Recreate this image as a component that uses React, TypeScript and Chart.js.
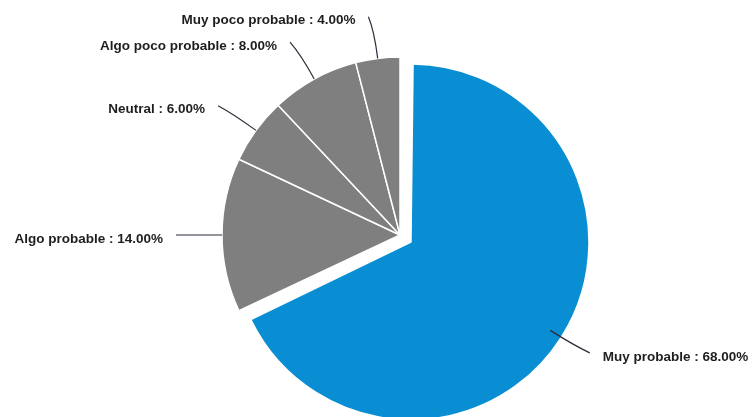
import React, { useEffect, useRef } from "react";
import { Chart, registerables } from "chart.js";

Chart.register(...registerables);

const categories = [
  "Muy probable",
  "Algo probable",
  "Neutral",
  "Algo poco probable",
  "Muy poco probable",
];
const values = [68, 14, 6, 8, 4];
const colors = ["#0a8ed3", "#7f7f7f", "#7f7f7f", "#7f7f7f", "#7f7f7f"];
const offsets = [52, 0, 0, 0, 0];

// Chart.js grows an offset arc's radius by the same amount it shifts it;
// shrink it back so the exploded slice keeps the pie's radius.
const keepRadius = {
  id: "keepRadius",
  beforeDatasetsDraw(chart: any) {
    const meta = chart.getDatasetMeta(0);
    const base = meta.controller.outerRadius;
    meta.data.forEach((arc: any, i: number) => {
      const off = (offsets[i] || 0) / 4;
      const circ = arc.endAngle - arc.startAngle;
      const fix = 1 - Math.sin(Math.min(Math.PI, circ));
      arc.outerRadius = base - off * fix;
    });
  },
};

const outerLabels = {
  id: "outerLabels",
  afterDatasetsDraw(chart: any) {
    const ctx = chart.ctx;
    const meta = chart.getDatasetMeta(0);
    const outerRadius = meta.controller.outerRadius;
    ctx.save();
    ctx.font = "bold 13.5px 'Liberation Sans', Arial, sans-serif";
    ctx.textBaseline = "middle";
    meta.data.forEach((arc: any, i: number) => {
      const { x, y, startAngle, endAngle } = arc;
      const mid = (startAngle + endAngle) / 2;
      const cx = Math.cos(mid);
      const cy = Math.sin(mid);
      const right = cx >= 0;
      const sx = x + cx * outerRadius;
      const sy = y + cy * outerRadius;
      const kx = x + cx * (outerRadius + 28);
      const ky = y + cy * (outerRadius + 28);
      const ex = x + cx * (outerRadius + 42) + (right ? 4 : -4);
      const ey = y + cy * (outerRadius + 42);
      ctx.strokeStyle = "#2b2b3a";
      ctx.lineWidth = 1.2;
      ctx.beginPath();
      ctx.moveTo(sx, sy);
      ctx.quadraticCurveTo(kx, ky, ex, ey);
      ctx.stroke();
      const text = `${categories[i]} : ${values[i].toFixed(2)}%`;
      ctx.fillStyle = "#1e1e1e";
      ctx.textAlign = right ? "left" : "right";
      ctx.fillText(text, ex + (right ? 13 : -13), ey + 4);
    });
    ctx.restore();
  },
};

export default function App() {
  const ref = useRef<HTMLCanvasElement>(null);
  useEffect(() => {
    document.body.style.margin = "0";
    if (!ref.current) return;
    const chart = new Chart(ref.current, {
      type: "pie",
      data: {
        labels: categories,
        datasets: [
          {
            data: values,
            backgroundColor: colors,
            borderColor: "#ffffff",
            borderWidth: 1.5,
            offset: offsets,
            hoverOffset: 0,
            radius: 178,
          } as any,
        ],
      },
      options: {
        responsive: false,
        animation: false,
        layout: { padding: { left: 46, right: 0, top: 53, bottom: 0 } },
        plugins: {
          legend: { display: false },
          tooltip: { enabled: false },
        },
        events: [],
      },
      plugins: [keepRadius, outerLabels],
    });
    return () => chart.destroy();
  }, []);
  return (
    <div style={{ width: 754, height: 417, background: "#ffffff" }}>
      <canvas ref={ref} width={754} height={417} />
    </div>
  );
}
